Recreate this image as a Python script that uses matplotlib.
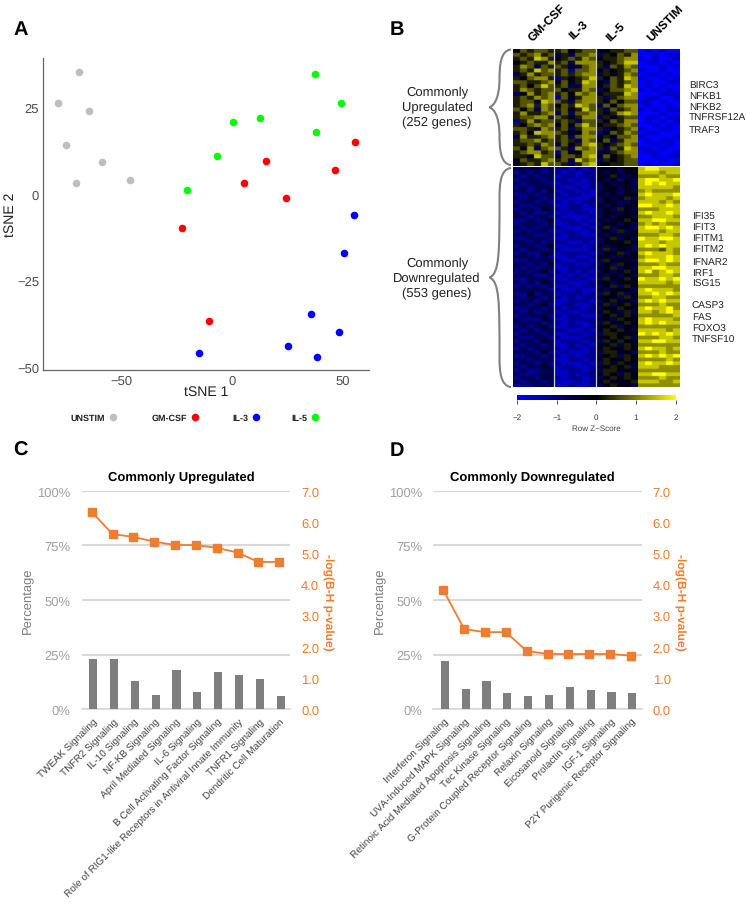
import numpy as np
import matplotlib
matplotlib.use('Agg')
import matplotlib.pyplot as plt
from matplotlib.colors import LinearSegmentedColormap
from matplotlib.path import Path
from matplotlib.patches import PathPatch

plt.rcParams['font.family'] = ['Liberation Sans', 'DejaVu Sans']
plt.rcParams['text.hinting'] = 'no_hinting'
plt.rcParams['text.hinting_factor'] = 1

W, H = 747, 904

# panel A
unstim_x = [-69.5, -78.7, -65.0, -75.4, -58.9, -70.5, -46.2]
unstim_y = [35.3, 26.4, 24.0, 14.0, 9.2, 3.1, 3.9]
gmcsf_x = [55.6, 15.3, 46.4, 5.6, 24.3, -22.7, -10.4]
gmcsf_y = [15.1, 9.6, 6.9, 3.1, -1.3, -9.8, -36.8]
il3_x = [55.0, 50.9, 35.8, 48.3, 25.5, 38.5, -14.8]
il3_y = [-6.2, -17.1, -34.8, -39.8, -44.1, -47.0, -45.9]
il5_x = [37.6, 49.1, 12.8, 0.5, 37.8, -6.9, -20.2]
il5_y = [34.6, 26.4, 21.9, 20.7, 18.0, 11.1, 1.2]

# panel B, one digit per cell, 0 is z=-2 and 9 is z=+2
# columns: GM-CSF, IL-3, IL-5, UNSTIM
up_rows = [
    "465665 564566 445566 010100",
    "656756 353667 354657 001011",
    "565875 456576 455677 101001",
    "456557 563777 545688 011010",
    "576365 654367 536576 000101",
    "565867 562667 454567 100100",
    "357566 565677 354576 011010",
    "546775 254568 546587 100101",
    "665567 464587 436567 010011",
    "564686 563377 456587 010100",
    "576566 645576 346678 101010",
    "347567 564767 455587 000111",
    "565767 264577 535677 011001",
    "566387 653677 546466 110100",
    "567576 465876 364677 010010",
    "646376 564586 536567 101011",
    "575567 363667 545787 000100",
    "566775 654577 354566 011011",
    "257566 565366 546577 010101",
    "546767 464686 455676 001010",
    "665376 563577 534567 100110",
    "564877 654476 246576 011000",
    "375567 563677 454667 100001",
    "566756 565376 463577 010110",
    "556576 364578 545676 001010",
    "647367 653767 536587 110100",
    "567756 264477 345677 011001",
    "554866 466578 464567 001011",
    "465567 563867 354566 000100",
    "456586 653578 445566 010001",
]
down_rows = [
    "333323 221212 444344 899888",
    "232323 212122 434344 888788",
    "323233 122122 445434 777877",
    "233323 221212 434243 899889",
    "323332 122112 343443 898988",
    "232333 211212 344343 888887",
    "332324 122121 344343 787777",
    "223233 212211 434344 898889",
    "323323 121112 343453 788878",
    "233232 212122 344334 888787",
    "322333 112212 434344 998898",
    "233243 212211 343543 777888",
    "323223 121221 344344 898898",
    "332332 211112 343443 778887",
    "223234 122121 434454 889988",
    "233323 112212 344343 787877",
    "323233 211121 453443 899898",
    "232332 122112 343534 888788",
    "333223 212211 434344 777887",
    "223332 112222 345343 988998",
    "332323 221121 344454 888788",
    "233234 112212 434443 898988",
    "323323 211112 353443 777687",
    "232243 122221 344534 898887",
    "333232 112112 443344 788898",
    "223333 211221 354443 899898",
    "332324 122112 343544 777877",
    "323233 112222 445343 889988",
    "232342 212121 343454 897898",
    "333223 121212 434343 777887",
    "223332 112221 354454 988989",
    "323243 221112 443444 888878",
    "232323 112122 345354 777777",
    "333332 211211 434443 898887",
    "224233 122212 354534 889898",
    "323323 212122 444354 778877",
    "233233 112221 345443 898988",
    "332342 122112 453454 777877",
    "223323 212212 344544 898897",
    "323233 121122 454353 887898",
    "233332 212211 345454 777778",
    "322243 112222 443544 898887",
    "333323 212112 354454 898988",
    "232342 112212 445344 777777",
    "323233 221121 454543 888878",
    "233323 112212 355444 989898",
    "322332 211122 445453 777887",
    "233243 122212 354544 889988",
    "323323 112121 445354 777777",
    "232333 212212 454454 898878",
    "333242 121112 355443 777877",
    "223323 212122 445354 898989",
    "332333 112212 454454 777787",
    "233232 211121 354544 898898",
    "323343 122112 445453 888777",
    "232233 112212 355444 777777",
    "322333 112122 454354 889988",
    "233243 212212 345454 777877",
    "323323 111212 454445 888778",
    "222333 112112 345443 777777",
]

# panels C and D
up_paths = ['TWEAK Signaling', 'TNFR2 Signaling', 'IL-10 Signaling', 'NF-KB Signaling',
            'April Mediated Signaling', 'IL-6 Signaling', 'B Cell Activating Factor Signaling',
            'Role of RIG1-like Receptors in Antiviral Innate Immunity', 'TNFR1 Signaling',
            'Dendritic Cell Maturation']
up_pct = [22.9, 22.9, 13.0, 6.6, 18.0, 7.9, 17.2, 15.9, 13.7, 5.9]
up_logp = [6.32, 5.61, 5.52, 5.37, 5.26, 5.26, 5.17, 5.02, 4.72, 4.72]

down_paths = ['Interferon Signaling', 'UVA-Induced MAPK Signaling',
              'Retinoic Acid Mediated Apoptosis Signaling', 'Tec Kinase Signaling',
              'G-Protein Coupled Receptor Signaling', 'Relaxin Signaling', 'Eicosanoid Signaling',
              'Prolactin Signaling', 'IGF-1 Signaling', 'P2Y Purigenic Receptor Signaling']
down_pct = [22.3, 9.5, 13.0, 7.3, 5.9, 6.6, 10.1, 8.7, 7.9, 7.3]
down_logp = [3.82, 2.57, 2.47, 2.47, 1.87, 1.77, 1.77, 1.77, 1.77, 1.72]

up_genes = ['BIRC3', 'NFKB1', 'NFKB2', 'TNFRSF12A', 'TRAF3']
down_genes = ['IFI35', 'IFIT3', 'IFITM1', 'IFITM2', 'IFNAR2', 'IRF1', 'ISG15',
              'CASP3', 'FAS', 'FOXO3', 'TNFSF10']
heat_cols = ['GM-CSF', 'IL-3', 'IL-5', 'UNSTIM']

ORANGE = '#ED7D31'
GRID = '#D9D9D9'
cmap = LinearSegmentedColormap.from_list('byk', ['#0000FF', '#000000', '#FFFF00'])


def box(left, top, right, bottom):
    # axes from pixel edges, top-left origin
    return fig.add_axes([left / W, 1 - bottom / H, (right - left) / W, (bottom - top) / H])


def to_matrix(rows):
    return np.array([[int(c) for c in r.replace(' ', '')] for r in rows]) * 4 / 9 - 2


fig = plt.figure(figsize=(W / 100, H / 100), dpi=100)

# overlay in pixel coordinates for the loose text
over = fig.add_axes([0, 0, 1, 1], zorder=5)
over.set_xlim(0, W)
over.set_ylim(H, 0)
over.axis('off')

for letter, x, y in [('A', 13, 30), ('B', 390, 30), ('C', 13, 451), ('D', 390, 451)]:
    over.text(x, y, letter, fontsize=14.5, fontweight='bold', va='center', ha='left')

# A
ax = box(43.3, 59.3, 369, 371)
groups = [(unstim_x, unstim_y, '#BEBEBE'), (gmcsf_x, gmcsf_y, '#FF0000'),
          (il3_x, il3_y, '#0000FF'), (il5_x, il5_y, '#00FF00')]
for gx, gy, col in groups:
    ax.scatter(gx, gy, s=30, color=col, linewidths=0)
ax.set_xlim(-85.5, 62)
ax.set_ylim(-50.9, 39.2)
ax.set_xticks([-50, 0, 50])
ax.set_yticks([-50, -25, 0, 25])
ax.set_xticklabels(['\u221250', '0', '50'])
ax.set_yticklabels(['\u221250', '\u221225', '0', '25'])
ax.tick_params(labelsize=9.5, labelcolor='#4D4D4D', length=0, pad=3)
for s in ['top', 'right']:
    ax.spines[s].set_visible(False)
for s in ['left', 'bottom']:
    ax.spines[s].set_color('#666666')
    ax.spines[s].set_linewidth(0.9)
over.text(206, 392, 'tSNE 1', fontsize=10, ha='center', va='center', color='#222222')
over.text(10, 215, 'tSNE 2', fontsize=10, ha='center', va='center', rotation=90, color='#222222')

legend_names = ['UNSTIM', 'GM-CSF', 'IL-3', 'IL-5']
legend_right = [105, 187, 248.5, 307]
legend_dot = [112.7, 195, 256, 314.7]
for name, r, d, g in zip(legend_names, legend_right, legend_dot, groups):
    over.text(r, 418.5, name, fontsize=6.5, fontweight='bold', ha='right', va='center', color='#222222')
    over.scatter([d], [417.5], s=30, color=g[2], linewidths=0)

# B
up_ax = box(512.7, 50, 679.3, 166.5)
down_ax = box(512.7, 168, 679.3, 388)
for hax, rows in [(up_ax, up_rows), (down_ax, down_rows)]:
    m = to_matrix(rows)
    # each condition on its own so the blur stops at the condition edge,
    # cells repeated first so it only softens the cell borders
    for i in range(4):
        block = np.kron(m[:, i * 6:(i + 1) * 6], np.ones((3, 5)))
        hax.imshow(block, cmap=cmap, vmin=-2, vmax=2, aspect='auto',
                   interpolation='bilinear', extent=[i * 6, (i + 1) * 6, m.shape[0], 0])
    hax.set_xlim(0, 24)
    hax.set_ylim(m.shape[0], 0)
    hax.axvline(6, color='#D0D0D0', lw=0.9)
    hax.axvline(12, color='#D0D0D0', lw=0.9)
    hax.axis('off')

for name, x, y in zip(heat_cols, [534, 575, 612, 653], [44, 42, 44, 44]):
    over.text(x, y, name, fontsize=8.8, fontweight='bold', rotation=45, rotation_mode='anchor',
              ha='left', va='bottom')

over.text(437, 108, 'Commonly\nUpregulated\n(252 genes)', fontsize=9.2, ha='center', va='center',
          linespacing=1.3, color='#222222')
over.text(437, 279, 'Commonly\nDownregulated\n(553 genes)', fontsize=9.2, ha='center', va='center',
          linespacing=1.3, color='#222222')

for g, y in zip(up_genes, [86, 96.7, 107.7, 118.7, 131]):
    over.text(689, y, g, fontsize=7, va='center', ha='left', color='#222222')
for g, y in zip(down_genes, [217, 228, 238.7, 249.7, 262.3, 273, 284, 306, 318, 329, 340]):
    over.text(691.7, y, g, fontsize=7, va='center', ha='left', color='#222222')


def brace(x_end, y_top, y_bot, x_tip):
    # curly bracket opening to the right
    y_mid = (y_top + y_bot) / 2
    x_in = x_tip + 10
    verts = [(x_end, y_top), (x_in + 1, y_top + 1), (x_in, y_top + 16), (x_in, y_top + 30),
             (x_in, y_mid - 25), (x_in, y_mid - 4), (x_tip, y_mid),
             (x_in, y_mid + 4), (x_in, y_mid + 25), (x_in, y_bot - 30),
             (x_in, y_bot - 16), (x_in + 1, y_bot - 1), (x_end, y_bot)]
    codes = [Path.MOVETO] + [Path.CURVE4] * 12
    over.add_patch(PathPatch(Path(verts, codes), fill=False, ec='#808080', lw=1.5))


brace(511, 50.5, 166, 489.5)
brace(511, 169, 388, 489.5)

# colour bar
cb = box(517, 396, 675.7, 401.3)
cb.imshow(np.linspace(-2, 2, 256).reshape(1, -1), cmap=cmap, aspect='auto', extent=[-2, 2, 0, 1])
cb.set_yticks([])
cb.set_xticks([-2, -1, 0, 1, 2])
cb.set_xticklabels(['\u22122', '\u22121', '0', '1', '2'])
cb.tick_params(labelsize=6, length=3, width=0.6, pad=6.5, labelcolor='#333333', color='#333333')
for s in cb.spines.values():
    s.set_visible(False)
over.text(596, 429, 'Row Z\u2212Score', fontsize=6, ha='center', va='center', color='#444444')


# C and D
def pathway_panel(left, right, title, title_x, names, pct, logp, left_label_x, right_label_x):
    bx = box(left, 491.7, right, 710.3)
    x = np.arange(len(names))
    bx.bar(x + 0.05, pct, width=0.39, color='#7F7F7F', zorder=3)
    bx.set_xlim(-0.5, len(names) - 0.5)
    bx.set_ylim(0, 100)
    bx.set_yticks([0, 25, 50, 75, 100])
    bx.set_yticklabels(['0%', '25%', '50%', '75%', '100%'])
    bx.yaxis.grid(True, color=GRID, lw=1.5, zorder=0)
    bx.set_axisbelow(True)
    bx.tick_params(axis='y', labelsize=9.5, labelcolor='#A0A0A0', length=0, pad=8)
    bx.set_xticks(x)
    bx.set_xticklabels(names, rotation=45, ha='right', rotation_mode='anchor', fontsize=7, color='#404040')
    bx.tick_params(axis='x', length=0, pad=5)
    for s in ['top', 'left', 'right']:
        bx.spines[s].set_visible(False)
    bx.spines['bottom'].set_color(GRID)
    bx.spines['bottom'].set_linewidth(1.2)

    lx = bx.twinx()
    lx.plot(x - 0.02, logp, color=ORANGE, lw=1.3, marker='s', ms=5.4, zorder=4, clip_on=False)
    lx.set_ylim(0, 7)
    lx.set_yticks(range(8))
    lx.set_yticklabels([f'{v:.1f}' for v in range(8)])
    lx.tick_params(axis='y', labelsize=9.5, labelcolor=ORANGE, length=0, pad=8)
    for s in lx.spines.values():
        s.set_visible(False)

    over.text(title_x, 477.7, title, fontsize=9.2, fontweight='bold', ha='center', va='center')
    over.text(left_label_x, 601, 'Percentage', fontsize=9.5, color='#7F7F7F',
              rotation=90, ha='center', va='center')
    over.text(right_label_x, 602, '-log(B-H p-value)', fontsize=8.8, fontweight='bold', color=ORANGE,
              rotation=270, ha='center', va='center')


pathway_panel(81.7, 290, 'Commonly Upregulated', 181.7, up_paths, up_pct, up_logp, 28, 328)
pathway_panel(433.3, 641.7, 'Commonly Downregulated', 532, down_paths, down_pct, down_logp, 380, 680)

fig.savefig('out.png', dpi=100, facecolor='white')
